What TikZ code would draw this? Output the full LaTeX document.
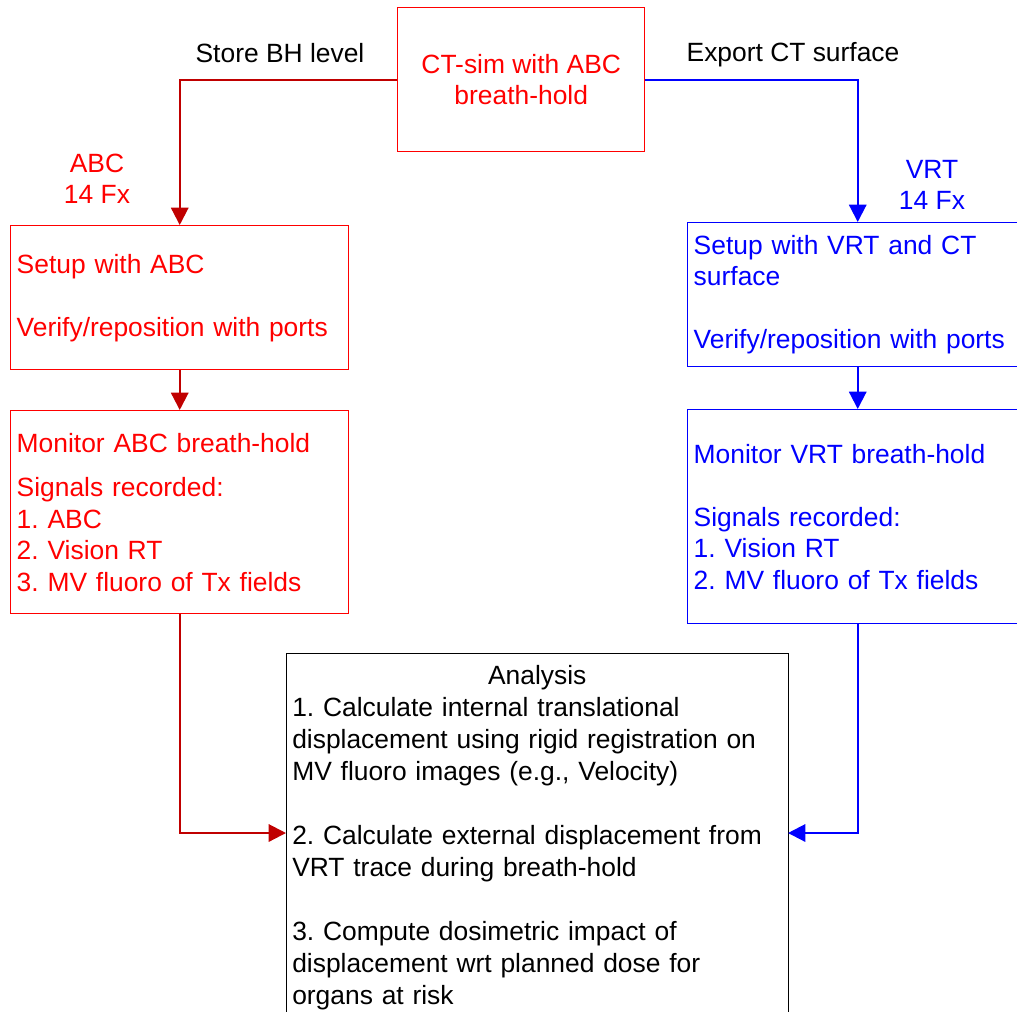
\documentclass[tikz,border=0pt]{standalone}
\usepackage{fontspec}
\setmainfont{Liberation Sans}
\usetikzlibrary{positioning,arrows.meta}
\definecolor{abcred}{RGB}{255,0,0}
\definecolor{abcline}{RGB}{192,0,0}
\definecolor{vrtblue}{RGB}{0,0,255}
\frenchspacing

\begin{document}
\begin{tikzpicture}[
  x=0.75pt, y=-0.75pt,
  every node/.style={font=\fontsize{19.8pt}{23.6pt}\selectfont},
  box/.style={rectangle, draw, line width=1.1pt, anchor=north west, inner xsep=4.5pt, inner ysep=0pt, align=left},
  abcbox/.style={box, draw=abcred, text=abcred},
  vrtbox/.style={box, draw=vrtblue, text=vrtblue},
  abcarr/.style={-{Triangle[length=13pt,width=13pt]}, line width=1.6pt, abcline},
  vrtarr/.style={-{Triangle[length=13pt,width=13pt]}, line width=1.6pt, vrtblue},
  lbl/.style={align=center, inner sep=0pt},
]
  \useasboundingbox (0,0) rectangle (1017,1011);
  \clip (0,0) rectangle (1017,1011);

  % Boxes
  \node[abcbox, align=center, minimum width=185.25pt, minimum height=108pt] (ct) at (397,7)
    {CT-sim with ABC\\breath-hold};
  \node[abcbox, text width=244.5pt, minimum height=108pt] (setupA) at (10,225)
    {Setup with ABC\\[23.6pt]Verify/reposition with ports};
  \node[abcbox, text width=244.5pt, minimum height=152.25pt] (monA) at (10,410)
    {Monitor ABC breath-hold\\[10pt]Signals recorded:\\1. ABC\\2. Vision RT\\3. MV fluoro of Tx fields};
  \node[vrtbox, text width=246pt, minimum height=108pt] (setupV) at (687,222)
    {Setup with VRT and CT\\surface\\[23.6pt]Verify/reposition with ports};
  \node[vrtbox, text width=246pt, minimum height=160.5pt] (monV) at (687,409)
    {Monitor VRT breath-hold\\[23.6pt]Signals recorded:\\1. Vision RT\\2. MV fluoro of Tx fields};
  \node[box, minimum width=376.5pt, minimum height=282.75pt] (ana) at (286,653) {};
  \node[anchor=north west, inner sep=0pt, text width=367.5pt, align=left, font=\fontsize{19.8pt}{24pt}\selectfont] (anatxt) at (292,665)
    {\makebox[\linewidth]{Analysis}\\
     1. Calculate internal translational\\
     displacement using rigid registration on\\
     MV fluoro images (e.g., Velocity)\\[24pt]
     2. Calculate external displacement from\\
     VRT trace during breath-hold\\[24pt]
     3. Compute dosimetric impact of\\
     displacement wrt planned dose for\\
     organs at risk};

  % Labels
  \node[lbl] (storebh) at (280,53) {Store BH level};
  \node[lbl] (export) at (793,55) {Export CT surface};
  \node[lbl, text=abcred] (fxA) at (97,179) {ABC\\14 Fx};
  \node[lbl, text=vrtblue] (fxV) at (932,185) {VRT\\14 Fx};

  \coordinate (inA) at (286,833);
  \coordinate (inV) at (788,833);

  % Connectors
  \draw[abcarr] (ct.west) -| (setupA.north);
  \draw[abcarr] (setupA.south) -- (monA.north);
  \draw[abcarr] (monA.south) |- (inA);
  \draw[vrtarr] (ct.east) -| (setupV.north);
  \draw[vrtarr] (setupV.south) -- (monV.north);
  \draw[vrtarr] (monV.south) |- (inV);
\end{tikzpicture}
\end{document}
